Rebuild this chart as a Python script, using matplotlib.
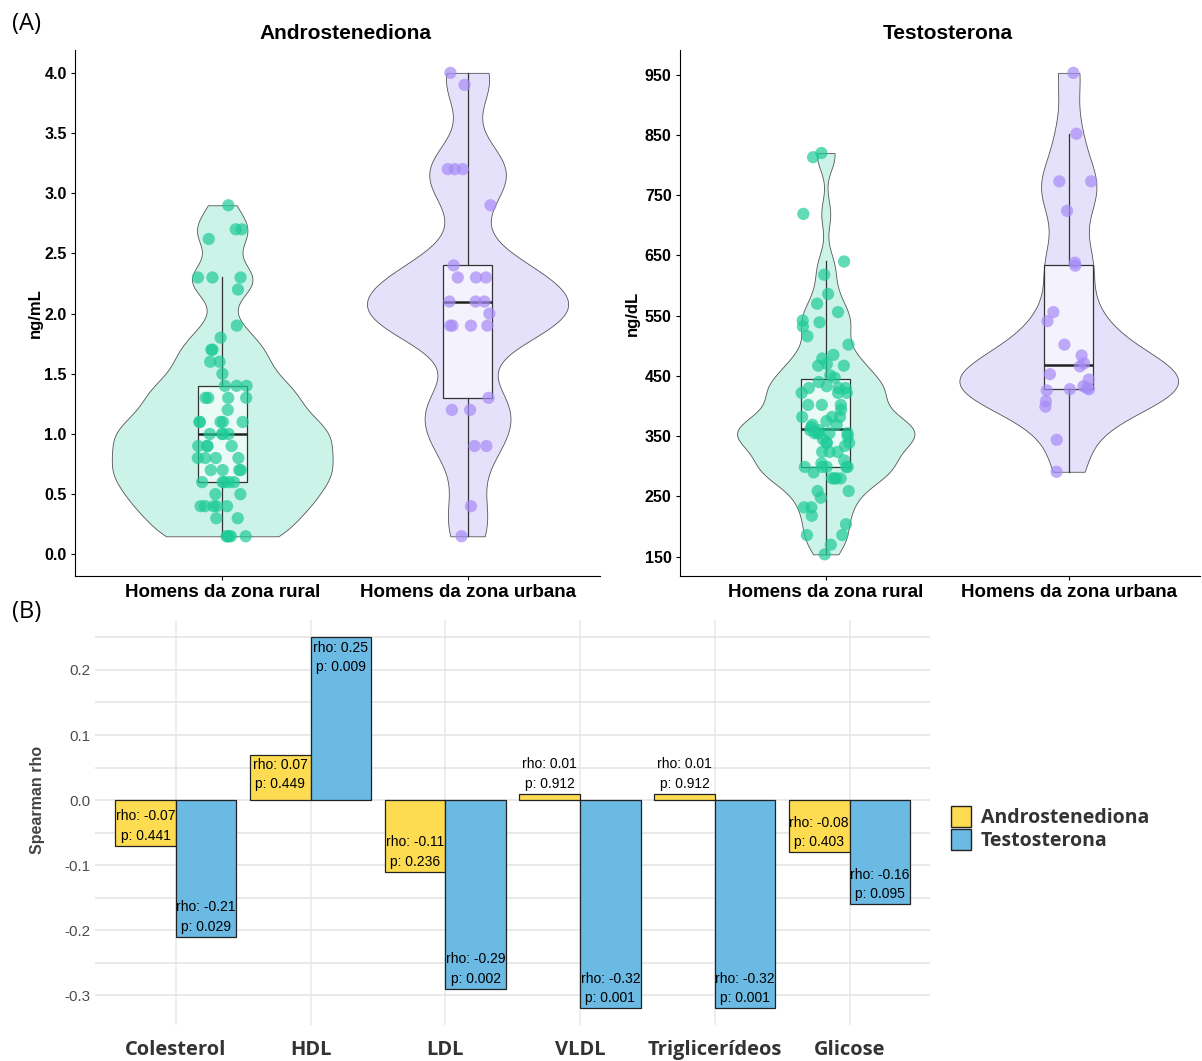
import numpy as np
import matplotlib
matplotlib.use("Agg")
import matplotlib.pyplot as plt
from matplotlib.patches import Patch

# Dados dos hormônios por grupo
grupos = ["Homens da zona rural", "Homens da zona urbana"]

andro_rural = [2.9, 2.7, 2.7, 2.62, 2.3, 2.3, 2.3, 2.2, 1.9, 1.8, 1.7, 1.7, 1.6, 1.6, 1.5,
               1.4, 1.4, 1.4, 1.3, 1.3, 1.3, 1.3, 1.2, 1.1, 1.1, 1.1, 1.1, 1.1,
               1.0, 1.0, 1.0, 1.0, 0.9, 0.9, 0.9, 0.9, 0.8, 0.8, 0.8, 0.8,
               0.7, 0.7, 0.7, 0.7, 0.6, 0.6, 0.6, 0.6, 0.6, 0.5, 0.5,
               0.4, 0.4, 0.4, 0.4, 0.4, 0.3, 0.3, 0.15, 0.15, 0.15, 0.15, 0.15]
andro_urbana = [4.0, 3.9, 3.2, 3.2, 3.2, 2.9, 2.4, 2.3, 2.3, 2.3, 2.1, 2.1, 2.1, 2.0,
                1.9, 1.9, 1.9, 1.9, 1.3, 1.2, 1.2, 0.9, 0.9, 0.4, 0.15]

testo_rural = [820, 813, 719, 640, 618, 586, 570, 556, 542, 539, 532, 516, 502, 485, 479,
               470, 467, 467, 451, 447, 440, 433, 430, 430, 430, 422, 422, 422,
               402, 402, 402, 394, 382, 382, 382, 375, 369, 369, 365, 360, 360,
               355, 355, 355, 355, 355, 350, 345, 339, 339, 339, 334, 324, 324, 324,
               310, 305, 299, 299, 299, 299, 299, 290, 280, 280, 280, 280,
               259, 259, 248, 232, 232, 218, 204, 186, 186, 170, 154]
testo_urbana = [953, 852, 773, 773, 724, 638, 633, 556, 541, 502, 484, 471, 466, 453,
                444, 433, 430, 428, 428, 426, 408, 399, 344, 291]

# Correlações de Spearman com o perfil lipídico/glicose
parametros = ["Colesterol", "HDL", "LDL", "VLDL", "Triglicerídeos", "Glicose"]
rho_andro = [-0.07, 0.07, -0.11, 0.01, 0.01, -0.08]
p_andro = [0.441, 0.449, 0.236, 0.912, 0.912, 0.403]
rho_testo = [-0.21, 0.25, -0.29, -0.32, -0.32, -0.16]
p_testo = [0.029, 0.009, 0.002, 0.001, 0.001, 0.095]

verde_pt = "#1ECB98"
verde_fill = "#CCF3E8"
roxo_pt = "#A68BF6"
roxo_fill = "#E6E1FB"
amarelo = "#FDDC52"
azul = "#6ABAE4"

plt.rcParams['font.family'] = ['Liberation Sans', 'DejaVu Sans']

fig = plt.figure(figsize=(12.02, 10.61), dpi=100)
ax1 = fig.add_axes([0.0624, 0.4571, 0.4368, 0.4958])
ax2 = fig.add_axes([0.5657, 0.4571, 0.4326, 0.4958])
ax3 = fig.add_axes([0.079, 0.034, 0.695, 0.3817])

rng = np.random.default_rng(7)


def bw_nrd0(x):
    # largura de banda no estilo do R (nrd0), como fator do desvio padrão
    x = np.asarray(x, dtype=float)
    sd = np.std(x, ddof=1)
    iqr = np.subtract(*np.percentile(x, [75, 25]))
    lo = min(sd, iqr / 1.34)
    return 0.9 * lo * len(x) ** -0.2 / sd


def painel(ax, dados, larguras, titulo, ylabel, yticks, ylim, fmt):
    cores_pt = [verde_pt, roxo_pt]
    cores_fill = [verde_fill, roxo_fill]
    for i, d in enumerate(dados):
        vp = ax.violinplot([d], positions=[i + 1], widths=larguras[i], showextrema=False,
                           points=400, bw_method=bw_nrd0(d) * 0.6)
        for b in vp['bodies']:
            b.set_facecolor(cores_fill[i])
            b.set_edgecolor("#555555")
            b.set_linewidth(0.6)
            b.set_alpha(1)
    ax.boxplot(dados, positions=[1, 2], widths=0.2, showfliers=False, showcaps=False,
               patch_artist=True,
               boxprops=dict(facecolor=(1, 1, 1, 0.6), edgecolor="#333333", linewidth=0.9),
               whiskerprops=dict(color="#333333", linewidth=0.9),
               medianprops=dict(color="#222222", linewidth=1.8))
    for i, d in enumerate(dados):
        xs = i + 1 + rng.uniform(-0.1, 0.1, len(d))
        ax.scatter(xs, d, s=78, color=cores_pt[i], alpha=0.7, edgecolors='none', zorder=5)
    ax.set_xlim(0.4, 2.54)
    ax.set_ylim(*ylim)
    ax.set_xticks([1, 2])
    ax.set_xticklabels(grupos, fontsize=13.5, fontweight='bold')
    ax.set_yticks(yticks)
    ax.set_yticklabels([fmt % t for t in yticks], fontsize=11.5, fontweight='bold')
    ax.set_ylabel(ylabel, fontsize=12, fontweight='bold')
    ax.set_title(titulo, fontsize=15, fontweight='bold', x=0.516, pad=8)
    ax.spines['top'].set_visible(False)
    ax.spines['right'].set_visible(False)
    ax.tick_params(length=3, width=0.8, pad=3)


painel(ax1, [andro_rural, andro_urbana], [0.9, 0.82], "Androstenediona", "ng/mL",
       np.arange(0, 4.01, 0.5), (-0.18, 4.19), "%.1f")
painel(ax2, [testo_rural, testo_urbana], [0.73, 0.9], "Testosterona", "ng/dL",
       np.arange(150, 951, 100), (118, 991), "%d")
ax1.yaxis.set_label_coords(-0.062, 0.5)
ax2.yaxis.set_label_coords(-0.077, 0.5)

# (B) barras com as correlações
x = np.arange(1, len(parametros) + 1)
w = 0.45
ax3.bar(x - w / 2, rho_andro, w, color=amarelo, edgecolor="#222222", linewidth=0.9, zorder=3)
ax3.bar(x + w / 2, rho_testo, w, color=azul, edgecolor="#222222", linewidth=0.9, zorder=3)

for xs, rhos, ps in [(x - w / 2, rho_andro, p_andro), (x + w / 2, rho_testo, p_testo)]:
    for xi, r, p in zip(xs, rhos, ps):
        va = 'top' if r > 0.05 else 'bottom'
        off = -0.005 if va == 'top' else 0.004
        ax3.text(xi, r + off, "rho: %.2f\np: %.3f" % (r, p), ha='center', va=va,
                 fontsize=10, linespacing=1.5, zorder=4)

ax3.set_xlim(0.4, 6.6)
ax3.set_ylim(-0.346, 0.277)
ax3.set_yticks([0.2, 0.1, 0.0, -0.1, -0.2, -0.3])
ax3.set_yticklabels(["0.2", "0.1", "0.0", "-0.1", "-0.2", "-0.3"], fontsize=11, color="#4D4D4D")
ax3.set_yticks(np.arange(-0.3, 0.26, 0.05), minor=True)
ax3.set_xticks(x)
ax3.set_xticklabels(parametros, fontsize=14.5, fontweight='bold', color="#333333",
                    family='Open Sans')
ax3.tick_params(axis='both', which='both', length=0)
ax3.tick_params(axis='x', pad=11)
ax3.grid(True, which='both', axis='y', color="#E3E3E3", linewidth=1.1, zorder=0)
ax3.grid(True, which='major', axis='x', color="#E8E8E8", linewidth=1.1, zorder=0)
for s in ax3.spines.values():
    s.set_visible(False)
ax3.set_ylabel("Spearman rho", fontsize=11.5, fontweight='bold', color="#444444")
ax3.yaxis.set_label_coords(-0.06, 0.556)

fig.legend(handles=[Patch(facecolor=amarelo, edgecolor="#222222", label="Androstenediona"),
                    Patch(facecolor=azul, edgecolor="#222222", label="Testosterona")],
           loc='center left', bbox_to_anchor=(0.777, 0.2195), frameon=False,
           prop={'family': 'Open Sans', 'weight': 'bold', 'size': 14},
           handlelength=1.0, handleheight=1.3, handletextpad=0.5, labelspacing=0.05,
           labelcolor="#333333")

fig.text(0.01, 0.977, "(A)", fontsize=17, family='Open Sans', va='center')
fig.text(0.01, 0.423, "(B)", fontsize=17, family='Open Sans', va='center')

fig.savefig("out.png", dpi=100)
